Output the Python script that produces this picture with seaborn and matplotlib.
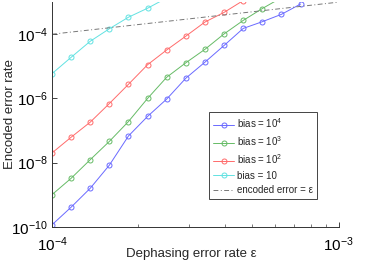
import numpy as np
import pandas as pd
import matplotlib
matplotlib.use("Agg")
import matplotlib.pyplot as plt
import seaborn as sns

# Data (log10 of the values)
exponent_steps = list(range(15))  # eps = 10^(-4 + k/15)
log_bias1e4 = [-9.94, -9.39, -8.80, -8.08, -7.17, -6.56, -6.02, -5.37, -4.87, -4.35, -3.82, -3.61, -3.38, -3.06]
log_bias1e3 = [-9.00, -8.49, -7.91, -7.34, -6.72, -6.00, -5.34, -4.89, -4.47, -3.99, -3.57, -3.20, -2.86]
log_bias1e2 = [-7.70, -7.21, -6.74, -6.16, -5.56, -4.95, -4.49, -4.06, -3.62, -3.32, -2.95]
log_bias10 = [-5.23, -4.72, -4.22, -3.83, -3.47, -3.19, -2.87]
series_labels = [r"bias = $10^4$", r"bias = $10^3$", r"bias = $10^2$", "bias = 10"]
series_colors = ["#6a6aff", "#66bb66", "#ff6b6b", "#62e2e2"]
ref_label = "encoded error = ε"
ref_x = [1e-4, 1e-3]
xtick_vals = [1e-4, 1e-3]
xtick_labels = [r"$10^{-4}$", r"$10^{-3}$"]
ytick_vals = [1e-10, 1e-8, 1e-6, 1e-4]
ytick_labels = [r"$10^{-10}$", r"$10^{-8}$", r"$10^{-6}$", r"$10^{-4}$"]

sns.set_style("ticks")
plt.rcParams["font.family"] = ["Liberation Sans", "DejaVu Sans"]
plt.rcParams["mathtext.fontset"] = "custom"
plt.rcParams["mathtext.rm"] = "Liberation Sans"
plt.rcParams["mathtext.it"] = "Liberation Sans:italic"
plt.rcParams["mathtext.sf"] = "Liberation Sans"
plt.rcParams["legend.numpoints"] = 1

fig = plt.figure(figsize=(3.74, 2.64), dpi=100)
ax = fig.add_axes([0.139, 0.141, 0.767, 0.851])

all_series = [log_bias1e4, log_bias1e3, log_bias1e2, log_bias10]
for vals, lab, col in zip(all_series, series_labels, series_colors):
    n = len(vals)
    df = pd.DataFrame({
        "eps": [10 ** (-4 + k / 15) for k in exponent_steps[:n]],
        "rate": [10 ** v for v in vals],
    })
    sns.lineplot(data=df, x="eps", y="rate", ax=ax, color=col, linewidth=0.7,
                 marker="o", markersize=3.6, markerfacecolor="none",
                 markeredgecolor=col, markeredgewidth=0.7, label=lab)

ref_df = pd.DataFrame({"eps": ref_x, "rate": ref_x})
sns.lineplot(data=ref_df, x="eps", y="rate", ax=ax, color="#777777",
             linewidth=0.7, linestyle=(0, (5, 2.5, 1, 2.5)), label=ref_label)

ax.set_xscale("log")
ax.set_yscale("log")
ax.set_xlim(1e-4, 1e-3)
ax.set_ylim(1e-10, 1e-3)

ax.set_xticks(xtick_vals)
ax.set_xticklabels(xtick_labels, fontsize=11)
ax.set_xticks([k * 1e-4 for k in range(2, 10)], minor=True)
ax.set_xticklabels([], minor=True)
ax.set_yticks(ytick_vals)
ax.set_yticklabels(ytick_labels, fontsize=11)
ax.yaxis.set_minor_locator(matplotlib.ticker.NullLocator())
ax.tick_params(axis="both", which="major", direction="in", length=3.5, width=0.6, colors="#222222")
ax.tick_params(axis="y", which="major", pad=3)
ax.tick_params(axis="x", which="major", pad=6)
ax.tick_params(axis="x", which="minor", direction="in", length=2, width=0.5, colors="#444444")
for lbl in ax.get_xticklabels() + ax.get_yticklabels():
    lbl.set_color("black")

for s in ["top", "right"]:
    ax.spines[s].set_visible(False)
for s in ["left", "bottom"]:
    ax.spines[s].set_linewidth(0.7)
    ax.spines[s].set_color("#333333")

ax.set_xlabel("Dephasing error rate ε", fontsize=9.5, va="center")
ax.xaxis.set_label_coords(0.485, -0.12)
ax.set_ylabel("Encoded error rate", fontsize=9.5, va="center")
ax.yaxis.set_label_coords(-0.147, 0.5)

leg = ax.legend(loc="upper left", bbox_to_anchor=(0.548, 0.509), fontsize=7,
                frameon=True, fancybox=False, framealpha=1, edgecolor="#444444",
                handlelength=2.2, handletextpad=0.3, borderpad=0.4, labelspacing=0.45,
                borderaxespad=0)
leg.get_frame().set_linewidth(0.7)

fig.savefig("out.png", dpi=100)
